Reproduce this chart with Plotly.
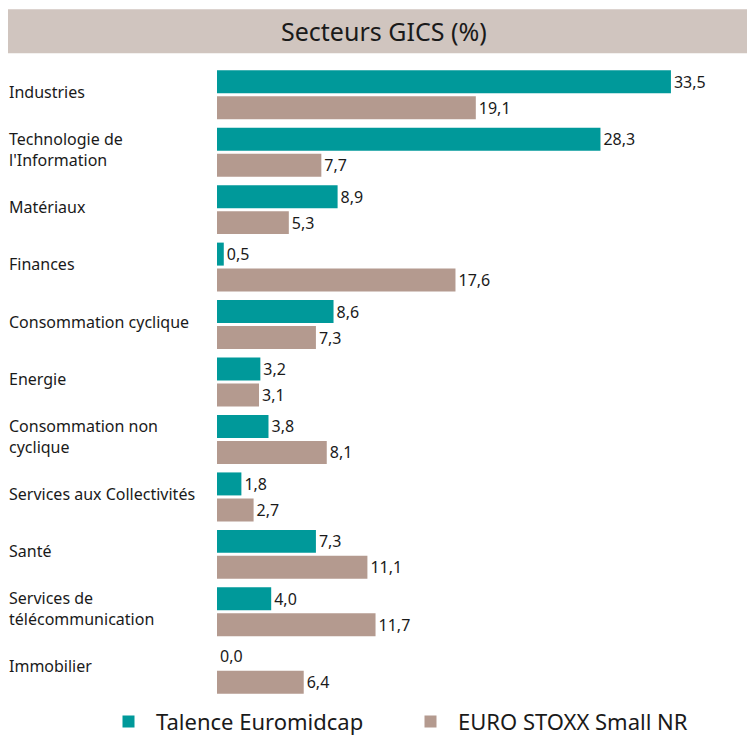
import plotly.graph_objects as go

categories = ["Industries", "Technologie de<br>l'Information", "Matériaux", "Finances",
              "Consommation cyclique", "Energie", "Consommation non<br>cyclique",
              "Services aux Collectivités", "Santé", "Services de<br>télécommunication",
              "Immobilier"]
fund_values = [33.5, 28.3, 8.9, 0.5, 8.6, 3.2, 3.8, 1.8, 7.3, 4.0, 0.0]
index_values = [19.1, 7.7, 5.3, 17.6, 7.3, 3.1, 8.1, 2.7, 11.1, 11.7, 6.4]
series_names = ["Talence Euromidcap", "EURO STOXX Small NR"]
title_text = "Secteurs GICS (%)"

FONT = "Noto Sans"
TEAL = "#00999A"
TAUPE = "#B49A8F"
BAND = "#D0C5BF"
TXT = "#1A1A1A"

# page has 8px body margin; work in figure coordinates (page - 8)
W, H = 747, 727
L, R, T, B = 209, 0, 57.75, 36.75
pw, ph = W - L - R, H - T - B

def px_x(x):
    return (x - L) / pw

def px_y(y):
    return (H - B - y) / ph

fig = go.Figure()
for name, vals, col in [(series_names[0], fund_values, TEAL), (series_names[1], index_values, TAUPE)]:
    fig.add_trace(go.Bar(
        y=categories, x=vals, name=name, orientation="h",
        marker=dict(color=col, line=dict(width=0)),
        texttemplate="%{x:.1f}", textposition="outside",
        textfont=dict(family=FONT, size=16, color=TXT),
        cliponaxis=False,
    ))

annotations = []
for c in categories:
    annotations.append(dict(
        x=px_x(-1), xref="paper", y=c, yref="y", text=c, showarrow=False,
        xanchor="left", align="left", yanchor="middle", yshift=3,
        font=dict(family=FONT, size=16, color=TXT),
    ))
annotations.append(dict(
    x=px_x(376), xref="paper", y=px_y(23), yref="paper", text=title_text,
    showarrow=False, xanchor="center", yanchor="middle",
    font=dict(family=FONT, size=25, color=TXT),
))

fig.update_layout(
    width=W, height=H,
    margin=dict(l=L, r=R, t=T, b=B, autoexpand=False),
    paper_bgcolor="white", plot_bgcolor="white",
    barmode="group", bargap=0.096, bargroupgap=0.115,
    separators=", ",
    showlegend=True,
    legend=dict(orientation="h", x=px_x(93), xanchor="left", y=px_y(714), yanchor="middle",
                font=dict(family=FONT, size=22, color=TXT), itemwidth=45,
                traceorder="normal", tracegroupgap=0, entrywidth=242,
                bgcolor="rgba(0,0,0,0)"),
    xaxis=dict(range=[0, pw / 13.55], visible=False, fixedrange=True),
    yaxis=dict(autorange="reversed", showticklabels=False, showgrid=False,
               zeroline=False, showline=False, ticks=""),
    shapes=[dict(type="rect", xref="paper", yref="paper",
                 x0=px_x(-2), x1=px_x(747), y0=px_y(45), y1=px_y(1),
                 fillcolor=BAND, line=dict(width=0), layer="below")],
    annotations=annotations,
    font=dict(family=FONT, color=TXT),
)

fig.write_html("out.html")
